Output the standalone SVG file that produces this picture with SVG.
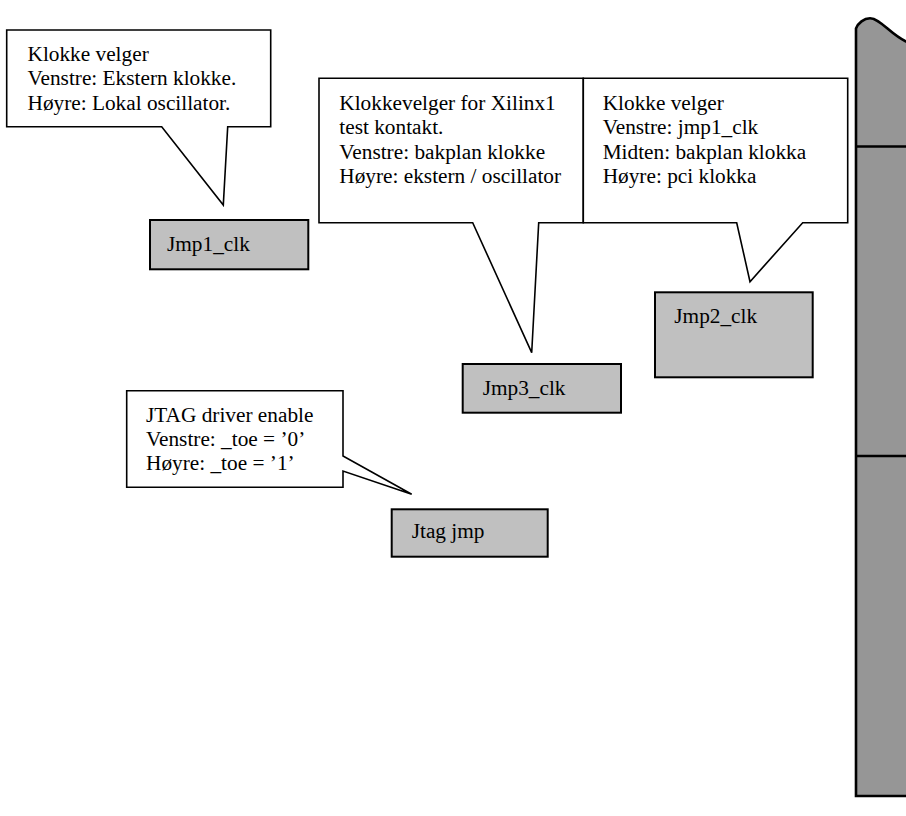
<svg xmlns="http://www.w3.org/2000/svg" width="906" height="816" viewBox="0 0 906 816">
<style>
.callout{fill:#ffffff;stroke:#000000;stroke-width:1.6;stroke-linejoin:miter}
.jmp{fill:#c0c0c0;stroke:#000000;stroke-width:2}
.panel{fill:#969696;stroke:#000000;stroke-width:2.6}
.div{stroke:#000000;stroke-width:2.4;fill:none}
text{font-family:"Liberation Serif","Times New Roman",serif;font-size:21.3px;fill:#000000}
</style>
<rect width="906" height="816" fill="#ffffff"/>
<g id="panel">
<path class="panel" d="M856,796 L856,28.5 C858,23 864,18.3 870,18.3 C880,18.3 890,34 906,41.5 L920,44 L920,796 Z"/>
<line class="div" x1="856" y1="146.5" x2="920" y2="146.5"/>
<line class="div" x1="856" y1="456" x2="920" y2="456"/>
</g>
<g id="connectors"/>
<g id="callout1">
<path class="callout" d="M6.7,30 H270.7 V126.7 H227.7 L223.3,205 L161.7,126.7 H6.7 Z"/>
<text x="27.5" y="61">Klokke velger</text>
<text x="27.5" y="85.4">Venstre: Ekstern klokke.</text>
<text x="27.5" y="109.8">Høyre: Lokal oscillator.</text>
</g>
<g id="callout3">
<path class="callout" d="M319,78.3 H583.3 V222.7 H538.7 L531.7,352.7 L472.7,222.7 H319 Z"/>
<text x="339.3" y="110">Klokkevelger for Xilinx1</text>
<text x="339.3" y="134.4">test kontakt.</text>
<text x="339.3" y="158.8">Venstre: bakplan klokke</text>
<text x="339.3" y="183.2">Høyre: ekstern / oscillator</text>
</g>
<g id="callout2">
<path class="callout" d="M583.3,78.3 H847.7 V222.7 H802.7 L750,281.7 L736.7,222.7 H583.3 Z"/>
<text x="602.7" y="110">Klokke velger</text>
<text x="602.7" y="134.4">Venstre: jmp1_clk</text>
<text x="602.7" y="158.8">Midten: bakplan klokka</text>
<text x="602.7" y="183.2">Høyre: pci klokka</text>
</g>
<g id="calloutJtag">
<path class="callout" d="M126.7,390.7 H343 V456 L411.7,494.3 L343,471 V487.3 H126.7 Z"/>
<text x="146" y="421.5">JTAG driver enable</text>
<text x="146" y="445.9">Venstre: _toe = ’0’</text>
<text x="146" y="470.3">Høyre: _toe = ’1’</text>
</g>
<g id="jmp1_clk">
<rect class="jmp" x="150" y="220" width="158.3" height="49.3"/>
<text x="167" y="251">Jmp1_clk</text>
</g>
<g id="jmp3_clk">
<rect class="jmp" x="462.7" y="364" width="158.3" height="48.7"/>
<text x="482.7" y="395">Jmp3_clk</text>
</g>
<g id="jmp2_clk">
<rect class="jmp" x="655" y="292.3" width="157.7" height="85"/>
<text x="674.3" y="323">Jmp2_clk</text>
</g>
<g id="jtag_jmp">
<rect class="jmp" x="391.7" y="509.3" width="156" height="47.4"/>
<text x="411.7" y="538">Jtag jmp</text>
</g>
</svg>
